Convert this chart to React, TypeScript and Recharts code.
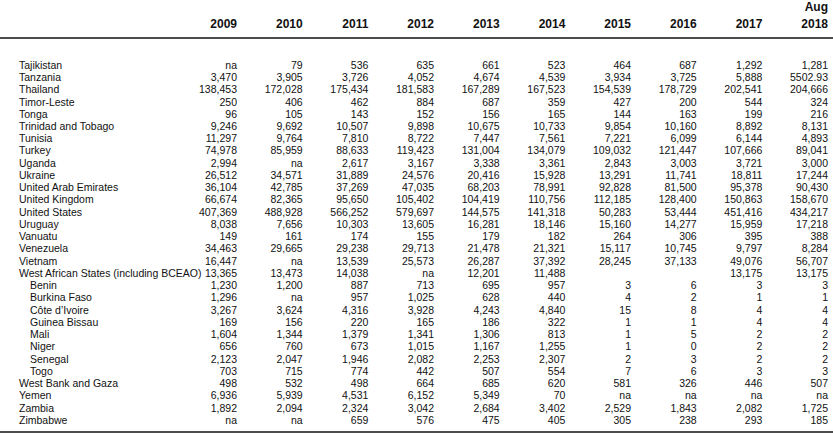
import { ScatterChart, Scatter, XAxis, YAxis } from 'recharts';

const years = ['2009', '2010', '2011', '2012', '2013', '2014', '2015', '2016', '2017', '2018'];
const yearNotes = ['', '', '', '', '', '', '', '', '', 'Aug'];

const countries = [
  'Tajikistan', 'Tanzania', 'Thailand', 'Timor-Leste', 'Tonga', 'Trinidad and Tobago', 'Tunisia', 'Turkey',
  'Uganda', 'Ukraine', 'United Arab Emirates', 'United Kingdom', 'United States', 'Uruguay', 'Vanuatu',
  'Venezuela', 'Vietnam', 'West African States (including BCEAO)', 'Benin', 'Burkina Faso', 'Côte d’Ivoire',
  'Guinea Bissau', 'Mali', 'Niger', 'Senegal', 'Togo', 'West Bank and Gaza', 'Yemen', 'Zambia', 'Zimbabwe',
];

// members listed under West African States, drawn indented
const wasMembers = ['Benin', 'Burkina Faso', 'Côte d’Ivoire', 'Guinea Bissau', 'Mali', 'Niger', 'Senegal', 'Togo'];

const v2009 = ['na', '3,470', '138,453', '250', '96', '9,246', '11,297', '74,978', '2,994', '26,512', '36,104', '66,674', '407,369', '8,038', '149', '34,463', '16,447', '13,365', '1,230', '1,296', '3,267', '169', '1,604', '656', '2,123', '703', '498', '6,936', '1,892', 'na'];
const v2010 = ['79', '3,905', '172,028', '406', '105', '9,692', '9,764', '85,959', 'na', '34,571', '42,785', '82,365', '488,928', '7,656', '161', '29,665', 'na', '13,473', '1,200', 'na', '3,624', '156', '1,344', '760', '2,047', '715', '532', '5,939', '2,094', 'na'];
const v2011 = ['536', '3,726', '175,434', '462', '143', '10,507', '7,810', '88,633', '2,617', '31,889', '37,269', '95,650', '566,252', '10,303', '174', '29,238', '13,539', '14,038', '887', '957', '4,316', '220', '1,379', '673', '1,946', '774', '498', '4,531', '2,324', '659'];
const v2012 = ['635', '4,052', '181,583', '884', '152', '9,898', '8,722', '119,423', '3,167', '24,576', '47,035', '105,402', '579,697', '13,605', '155', '29,713', '25,573', 'na', '713', '1,025', '3,928', '165', '1,341', '1,015', '2,082', '442', '664', '6,152', '3,042', '576'];
const v2013 = ['661', '4,674', '167,289', '687', '156', '10,675', '7,447', '131,004', '3,338', '20,416', '68,203', '104,419', '144,575', '16,281', '179', '21,478', '26,287', '12,201', '695', '628', '4,243', '186', '1,306', '1,167', '2,253', '507', '685', '5,349', '2,684', '475'];
const v2014 = ['523', '4,539', '167,523', '359', '165', '10,733', '7,561', '134,079', '3,361', '15,928', '78,991', '110,756', '141,318', '18,146', '182', '21,321', '37,392', '11,488', '957', '440', '4,840', '322', '813', '1,255', '2,307', '554', '620', '70', '3,402', '405'];
const v2015 = ['464', '3,934', '154,539', '427', '144', '9,854', '7,221', '109,032', '2,843', '13,291', '92,828', '112,185', '50,283', '15,160', '264', '15,117', '28,245', '', '3', '4', '15', '1', '1', '1', '2', '7', '581', 'na', '2,529', '305'];
const v2016 = ['687', '3,725', '178,729', '200', '163', '10,160', '6,099', '121,447', '3,003', '11,741', '81,500', '128,400', '53,444', '14,277', '306', '10,745', '37,133', '', '6', '2', '8', '1', '5', '0', '3', '6', '326', 'na', '1,843', '238'];
const v2017 = ['1,292', '5,888', '202,541', '544', '199', '8,892', '6,144', '107,666', '3,721', '18,811', '95,378', '150,863', '451,416', '15,959', '395', '9,797', '49,076', '13,175', '3', '1', '4', '4', '2', '2', '2', '3', '446', 'na', '2,082', '293'];
const v2018 = ['1,281', '5502.93', '204,666', '324', '216', '8,131', '4,893', '89,041', '3,000', '17,244', '90,430', '158,670', '434,217', '17,218', '388', '8,284', '56,707', '13,175', '3', '1', '4', '4', '2', '2', '2', '3', '507', 'na', '1,725', '185'];

const columns = [v2009, v2010, v2011, v2012, v2013, v2014, v2015, v2016, v2017, v2018];

const cells = columns.flatMap((col, c) =>
  col.map((label, r) => ({ x: c, y: r, label })).filter((d) => d.label !== '')
);

const FONT = '"Liberation Sans", Arial, Helvetica, sans-serif';
const INK = '#111';

function CellText(props: any) {
  const { cx, cy, payload } = props;
  return (
    <text x={cx} y={cy} dy="0.36em" textAnchor="end" fontSize={10.5} fill={INK} fontFamily={FONT}>
      {payload.label}
    </text>
  );
}

function YearTick(props: any) {
  const { x, y, payload } = props;
  const i = payload.value;
  return (
    <g>
      {yearNotes[i] && (
        <text x={x} y={y - 17.5} textAnchor="end" fontSize={12} fontWeight="bold" fill={INK} fontFamily={FONT}>
          {yearNotes[i]}
        </text>
      )}
      <text x={x} y={y} textAnchor="end" fontSize={12} fontWeight="bold" fill={INK} fontFamily={FONT}>
        {years[i]}
      </text>
    </g>
  );
}

function CountryTick(props: any) {
  const { y, payload } = props;
  const name = countries[payload.value];
  return (
    <text x={wasMembers.includes(name) ? 30 : 19} y={y} dy="0.36em" textAnchor="start" fontSize={10.5} fill={INK} fontFamily={FONT}>
      {name}
    </text>
  );
}

export default function App() {
  return (
    <div style={{ position: 'absolute', left: 0, top: 0, width: 833, height: 433, background: '#fff' }}>
      <ScatterChart width={833} height={433} margin={{ top: 0, right: 0, bottom: 0, left: 0 }}>
        <XAxis
          xAxisId="top"
          orientation="top"
          type="number"
          dataKey="x"
          domain={[0, 9]}
          ticks={years.map((_, i) => i)}
          interval={0}
          padding={{ left: 237, right: 5 }}
          height={38}
          tickSize={0}
          tickMargin={10}
          tickLine={false}
          axisLine={{ stroke: '#111', strokeWidth: 1.6 }}
          tick={<YearTick />}
        />
        <XAxis
          xAxisId="bottom"
          orientation="bottom"
          type="number"
          domain={[0, 9]}
          height={1}
          tick={false}
          tickLine={false}
          axisLine={{ stroke: '#111', strokeWidth: 1.5 }}
        />
        <YAxis
          type="number"
          dataKey="y"
          domain={[0, countries.length - 1]}
          reversed
          mirror
          ticks={countries.map((_, i) => i)}
          interval={0}
          padding={{ top: 27, bottom: 12 }}
          axisLine={false}
          tickLine={false}
          tick={<CountryTick />}
        />
        <Scatter xAxisId="top" data={cells} shape={<CellText />} isAnimationActive={false} />
      </ScatterChart>
    </div>
  );
}
